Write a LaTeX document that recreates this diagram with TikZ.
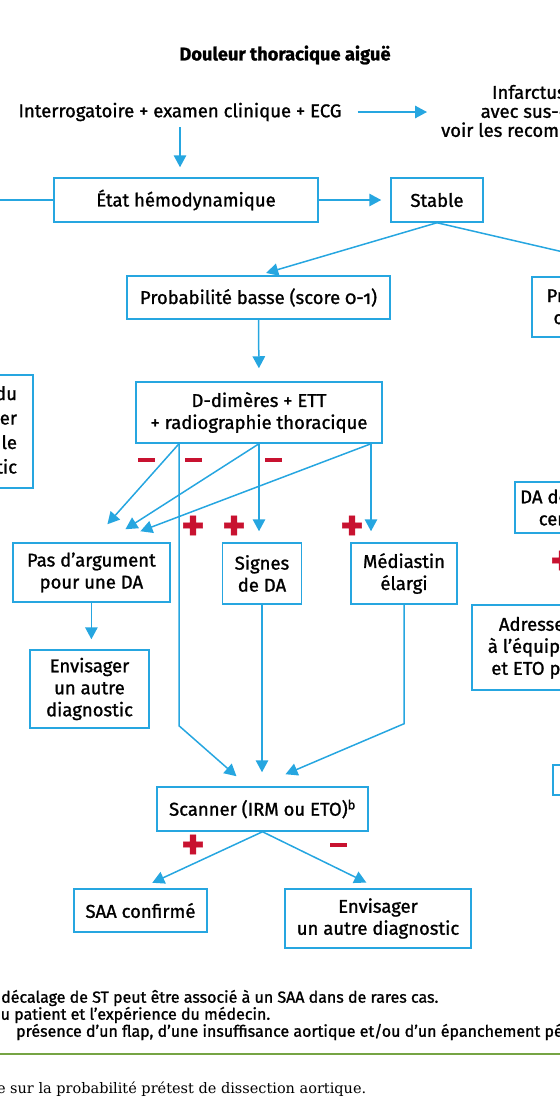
\documentclass[tikz,border=0pt]{standalone}
\usepackage{fontspec}
\setmainfont[Numbers=OldStyle, FakeBold=1.2]{Fira Sans}
\newfontfamily\serifnote{DejaVu Serif}
\usetikzlibrary{shapes.geometric, arrows}
\usetikzlibrary{positioning}
\usetikzlibrary{arrows.meta}
\usepackage{color}
\definecolor{dablue}{RGB}{38,166,224}
\definecolor{dared}{RGB}{200,18,48}
\definecolor{dagreen}{RGB}{118,164,68}

\begin{document}
\begin{tikzpicture}[x=1pt, y=-1pt,
box/.style={rectangle, draw=dablue, line width=1.5pt, align=center, inner sep=2pt, font=\fontsize{18.5}{22}\selectfont},
plaintext/.style={align=center, inner sep=3pt, font=\fontsize{18.5}{19}\selectfont},
titletext/.style={inner sep=0pt, font=\bfseries\fontsize{18.3}{22}\selectfont},
arrowline/.style={draw=dablue, line width=1.5pt, -{Triangle[length=12pt, width=12.5pt]}},
plainline/.style={draw=dablue, line width=1.5pt},
possign/.style={text=dared, inner sep=0pt, font=\bfseries\fontsize{44}{44}\selectfont},
negsign/.style={fill=dared, inner sep=0pt, minimum width=17pt, minimum height=4.5pt},
notetext/.style={anchor=west, inner sep=0pt, font=\fontsize{16}{17}\selectfont},
]
\useasboundingbox (0,0) rectangle (560,1120);
\clip (0,0) rectangle (560,1120);

%Nodes
\node[titletext]  at (285,55)      (title)      [] {Douleur thoracique aiguë};
\node[plaintext]  at (180,112)     (interro)    [] {Interrogatoire + examen clinique + ECG};
\node[plaintext, anchor=west] at (438,111) (infarct) [] {Infarctus du myocarde\\avec sus-décalage de ST\textsuperscript{a}\\voir les recommandations dédiées};

\node[box, minimum width=264pt, minimum height=44pt]  at (186,200)    (etat)       [] {État hémodynamique};
\node[box, minimum width=92pt, minimum height=44pt]   at (437,200)    (stable)     [] {Stable};
\coordinate (offleft) at (-10,200);

\node[box, minimum width=263pt, minimum height=43pt]  at (258.5,297.5) (proba)     [] {Probabilité basse (score 0-1)};
\node[box, minimum width=240pt, minimum height=60pt]  at (652,307)    (probhigh)   [] {Probabilité intermédiaire\\ou élevée (score 2 ou 3)};

\node[box, minimum width=246pt, minimum height=61pt]  at (259,412.5)  (ddim)       [] {D-dimères + ETT\\+ radiographie thoracique};
\node[box, text width=170pt, inner xsep=16pt, align=right, minimum height=113pt, font=\fontsize{18.5}{24.5}\selectfont] at (-68,431.5) (etoleft) [] {ETO au lit du\\patient ou scanner\\pour confirmer le\\diagnostic};

\node[box, minimum width=157pt, minimum height=59pt]  at (91.4,572.5) (pas)        [] {Pas d’argument\\pour une DA};
\node[box, minimum width=79pt, minimum height=61pt]   at (262,573.5)  (signes)     [] {Signes\\de DA};
\node[box, minimum width=106pt, minimum height=61pt]  at (404,573.5)  (med)        [] {Médiastin\\élargi};
\node[box, minimum width=116pt, minimum height=51pt]  at (573,507.5)  (dacert)     [] {DA de type A\\certaine};
\node[box, minimum width=212pt, minimum height=85pt]  at (578,647.5)  (adresser)   [] {Adresser le patient\\à l’équipe spécialisée\\et ETO peropératoire};
\node[box, minimum width=120pt, minimum height=30pt]  at (613,780)    (rightlow)   [] {};

\node[box, minimum width=119pt, minimum height=78pt]  at (89.5,689)   (envis1)     [] {Envisager\\un autre\\diagnostic};
\node[box, minimum width=211pt, minimum height=44pt]  at (262.5,809)  (scan)       [] {Scanner (IRM ou ETO)\textsuperscript{b}};
\node[box, minimum width=133pt, minimum height=43pt]  at (140.5,910.5) (saa)       [] {SAA confirmé};
\node[box, minimum width=186pt, minimum height=59pt]  at (378,918.5)  (envis2)     [] {Envisager\\un autre diagnostic};

%Signs
\node[negsign] at (146,460) (neg1) {};
\node[negsign] at (193,460) (neg2) {};
\node[negsign] at (273,460) (neg3) {};
\node[possign] at (193,528) (pos1) {+};
\node[possign] at (234,528) (pos2) {+};
\node[possign] at (352,528) (pos3) {+};
\node[possign] at (562,563) (pos4) {+};
\node[possign] at (193,847) (pos5) {+};
\node[negsign] at (338,845) (neg4) {};

%Lines
\draw[arrowline, shorten <=3pt, shorten >=10pt] (interro.south) -- (interro.south |- etat.north);
\draw[arrowline, shorten <=13pt, shorten >=11pt] (interro.east) -- (interro.east -| infarct.west);
\draw[plainline] (etat.west) -- (offleft);
\draw[arrowline, shorten >=9pt] (etat.east) -- (stable.west);
\draw[arrowline, shorten >=8pt] (stable.south) -- (proba.north);
\draw[arrowline, shorten >=8pt] (stable.south) -- ([xshift=16pt]probhigh.north);
\draw[arrowline, shorten >=13pt] (proba.south) -- (ddim.north);

\draw[arrowline] ([xshift=-80pt]ddim.south) -- ([xshift=16pt,yshift=18pt]pas.north);
\draw[arrowline] (ddim.south) -- ([xshift=34pt,yshift=13pt]pas.north);
\draw[arrowline] ([xshift=112pt]ddim.south) -- ([xshift=49pt,yshift=11pt]pas.north);
\draw[arrowline, shorten >=11pt] (ddim.south) -- (ddim.south |- signes.north);
\draw[arrowline, shorten >=11pt] ([xshift=112pt]ddim.south) -- ([xshift=-33pt]med.north);
\draw[arrowline, shorten >=10pt] (pas.south) -- (pas.south |- envis1.north);

\draw[arrowline] ([xshift=-80pt]ddim.south) -- ++(0,282) -- ([xshift=-26pt,yshift=10pt]scan.north);
\draw[arrowline, shorten >=14pt] (signes.south) -- (signes.south |- scan.north);
\draw[arrowline] (med.south) -- ++(0,119) -- ([xshift=23pt,yshift=12pt]scan.north);
\draw[arrowline, shorten >=13pt] (scan.south) -- (saa.north);
\draw[arrowline, shorten >=13pt] (scan.south) -- (envis2.north);

%Notes
\node[notetext] at (1,998)   (note1) {décalage de ST peut être associé à un SAA dans de rares cas.};
\node[notetext] at (0.5,1015) (note2) {\llap{d}u patient et l’expérience du médecin.};
\node[notetext] at (16,1032) (note3) {présence d’un flap, d’une insuffisance aortique et/ou d’un épanchement péricardique.};
\draw[dagreen, line width=2pt] (0,1054) -- (560,1054);
\node[notetext, font=\serifnote\fontsize{14.5}{17}\selectfont] at (10,1089) (note4) {\llap{basée }sur la probabilité prétest de dissection aortique.};

\end{tikzpicture}
\end{document}
